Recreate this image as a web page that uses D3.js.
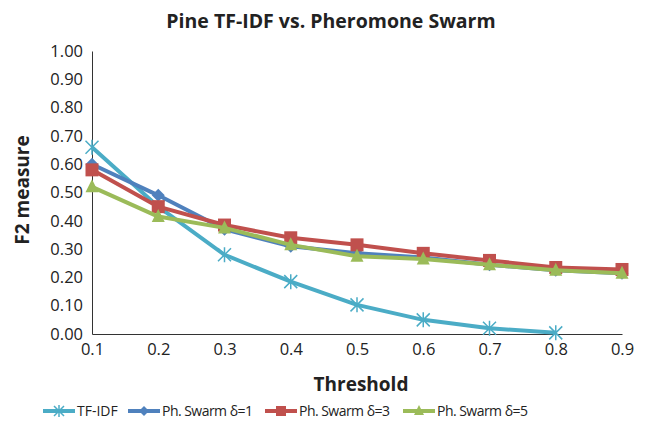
<!DOCTYPE html>
<html>
<head>
<meta charset="utf-8">
<script src="https://cdn.jsdelivr.net/npm/d3@7"></script>
<style>
  body { margin: 0; background: #fff; }
  text { font-family: "Open Sans", sans-serif; fill: #222; }
  .axis .tick text { font-size: 16.5px; font-family: "Open Sans", sans-serif; fill: #222; }
</style>
</head>
<body>
<div id="chart"></div>
<script>
// Data
const thresholds = [0.1, 0.2, 0.3, 0.4, 0.5, 0.6, 0.7, 0.8, 0.9];
const tfidf  = [0.66, 0.45, 0.28, 0.185, 0.103, 0.05, 0.02, 0.004];
const swarm1 = [0.60, 0.49, 0.37, 0.31, 0.285, 0.27, 0.245, 0.225, 0.215];
const swarm3 = [0.58, 0.45, 0.385, 0.34, 0.315, 0.285, 0.26, 0.235, 0.228];
const swarm5 = [0.52, 0.415, 0.375, 0.315, 0.275, 0.265, 0.245, 0.225, 0.215];
const yTicks = [0, 0.1, 0.2, 0.3, 0.4, 0.5, 0.6, 0.7, 0.8, 0.9, 1.0];

const series = [
  { name: "TF-IDF", values: tfidf, color: "#4BACC6", marker: "star" },
  { name: "Ph. Swarm  δ=1", values: swarm1, color: "#4F81BD", marker: "diamond" },
  { name: "Ph. Swarm  δ=3", values: swarm3, color: "#C0504D", marker: "square" },
  { name: "Ph. Swarm  δ=5", values: swarm5, color: "#9BBB59", marker: "triangle" }
];

const width = 648, height = 426;
const svg = d3.select("#chart").append("svg")
    .attr("width", width)
    .attr("height", height);

const x = d3.scaleLinear().domain([0.1, 0.9]).range([92, 622]);
const y = d3.scaleLinear().domain([0, 1]).range([334, 51]);

// Title
svg.append("text")
    .attr("x", 331).attr("y", 28)
    .attr("text-anchor", "middle")
    .style("font-size", "19.5px").style("font-weight", "bold")
    .text("Pine TF-IDF vs. Pheromone Swarm");

// Y axis
const yAxis = svg.append("g")
    .attr("class", "axis")
    .attr("transform", "translate(92,0)")
    .call(d3.axisLeft(y).tickValues(yTicks).tickFormat(d3.format(".2f")).tickSize(0).tickPadding(9));
yAxis.select(".domain").attr("stroke", "#333").attr("stroke-width", 1);

// X axis
const xAxis = svg.append("g")
    .attr("class", "axis")
    .attr("transform", "translate(0,334)")
    .call(d3.axisBottom(x).tickValues(thresholds).tickFormat(d3.format(".1f")).tickSize(0).tickPadding(9));
xAxis.select(".domain").attr("stroke", "#333").attr("stroke-width", 1);

// Axis titles
svg.append("text")
    .attr("transform", "translate(29,190) rotate(-90)")
    .attr("text-anchor", "middle")
    .style("font-size", "19px").style("font-weight", "bold")
    .text("F2 measure");

svg.append("text")
    .attr("x", 361).attr("y", 391)
    .attr("text-anchor", "middle")
    .style("font-size", "19px").style("font-weight", "bold")
    .text("Threshold");

// Marker drawing
function drawMarker(g, type, color, cx, cy, r) {
  if (type === "star") {
    g.append("path")
        .attr("d", `M${cx - r},${cy - r}L${cx + r},${cy + r}M${cx - r},${cy + r}L${cx + r},${cy - r}M${cx},${cy - r - 1}L${cx},${cy + r + 1}`)
        .attr("stroke", color).attr("stroke-width", 1.5).attr("fill", "none");
  } else if (type === "diamond") {
    g.append("path")
        .attr("d", `M${cx},${cy - r}L${cx + r},${cy}L${cx},${cy + r}L${cx - r},${cy}Z`)
        .attr("fill", color);
  } else if (type === "square") {
    g.append("rect")
        .attr("x", cx - r).attr("y", cy - r)
        .attr("width", 2 * r).attr("height", 2 * r)
        .attr("fill", color);
  } else if (type === "triangle") {
    g.append("path")
        .attr("d", `M${cx},${cy - r - 1}L${cx + r},${cy + r - 1}L${cx - r},${cy + r - 1}Z`)
        .attr("fill", color);
  }
}

const line = d3.line()
    .x((d, i) => x(thresholds[i]))
    .y(d => y(d));

series.forEach(s => {
  const g = svg.append("g");
  g.append("path")
      .datum(s.values)
      .attr("d", line)
      .attr("fill", "none")
      .attr("stroke", s.color)
      .attr("stroke-width", 4)
      .attr("stroke-linejoin", "round");
  s.values.forEach((v, i) => drawMarker(g, s.marker, s.color, x(thresholds[i]), y(v), 6.5));
});

// Legend
const legendX = [43, 128, 265, 403];
series.forEach((s, i) => {
  const g = svg.append("g");
  const lx = legendX[i], ly = 411;
  g.append("line")
      .attr("x1", lx).attr("x2", lx + 32)
      .attr("y1", ly).attr("y2", ly)
      .attr("stroke", s.color).attr("stroke-width", 4);
  drawMarker(g, s.marker, s.color, lx + 16, ly, 5);
  g.append("text")
      .attr("x", lx + 34).attr("y", ly + 5)
      .style("font-size", "14px")
      .attr("textLength", i === 0 ? null : 91)
      .text(s.name);
});
</script>
</body>
</html>
